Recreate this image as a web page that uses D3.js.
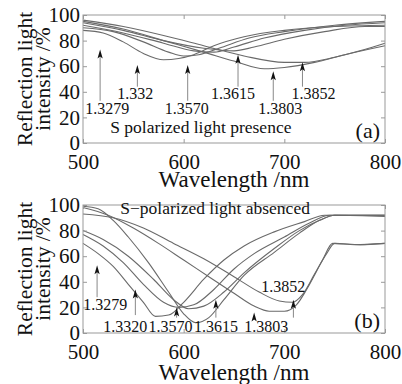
<!DOCTYPE html>
<html>
<head>
<meta charset="utf-8">
<script src="https://cdn.jsdelivr.net/npm/d3@7"></script>
<style>
  body { margin: 0; background: #fff; }
</style>
</head>
<body>
<div id="chart"></div>
<script>
// refractive index labels for each curve
const labelsA = ['1.3279', '1.332', '1.3570', '1.3615', '1.3803', '1.3852'];
const labelsB = ['1.3279', '1.3320', '1.3570', '1.3615', '1.3803', '1.3852'];

// panel (a): S polarized light present, [wavelength, reflection %]
const curvesA = [
  [[500,88],[520,86],[540,79],[560,70],[580,65],[595,66],[610,69],[630,76],[660,83],[700,88],[750,91],[800,92]],
  [[500,90],[530,87],[560,79],[585,71],[600,68],[615,69],[635,74],[665,82],[700,87],[750,92],[800,95]],
  [[500,92],[540,86],[580,78],[610,72],[630,71],[650,75],[680,82],[720,88],[760,92],[800,94]],
  [[500,94],[540,88],[580,80],[620,74],[650,72],[670,75],[700,81],[740,87],[780,91],[800,91]],
  [[500,95],[540,89],[580,80],[620,71],[650,64],[680,58],[700,59],[730,63],[760,69],[800,76]],
  [[500,96],[540,91],[580,84],[620,76],[660,68],[700,63],[720,63],[750,67],[775,72],[800,78]]
];

// panel (b): S polarized light absent
const curvesB = [
  [[500,70],[515,62],[530,52],[545,38],[560,24],[572,13],[585,14],[600,24],[620,42],[640,57],[660,68],[690,79],[720,87],[740,92],[770,92],[800,92]],
  [[500,77],[520,68],[540,55],[560,38],[580,24],[595,20],[610,22],[630,34],[650,50],[670,62],[700,75],[725,86],[745,92],[800,92]],
  [[500,80],[520,73],[545,60],[570,42],[590,26],[605,19],[620,21],[640,32],[660,47],[690,66],[715,80],[735,88],[750,92],[800,91]],
  [[500,99],[515,97],[530,88],[545,75],[565,55],[585,32],[600,15],[612,8],[625,12],[640,26],[660,45],[690,63],[715,78],[735,88],[750,92],[800,92]],
  [[500,98],[525,92],[550,82],[575,70],[600,57],[625,44],[650,31],[670,21],[685,17],[700,17],[712,22],[725,38],[738,57],[748,70],[770,69],[800,70]],
  [[500,93],[530,90],[560,82],[590,70],[620,58],[650,44],[675,32],[695,25],[708,24],[718,30],[730,46],[742,62],[750,70],[775,69],[800,70]]
];

// arrow annotations (wavelength, tip %, base %), label anchor (wavelength, baseline %)
const arrowXA = [517, 554, 604, 654, 689, 718];
const arrowTipA = [73, 61, 61, 69, 56, 63];
const arrowBaseA = [33, 44, 33, 44, 33, 44];
const labelXA = [524, 552, 603, 649, 696, 729];
const labelYA = [23, 34, 23, 34, 23, 34];

const arrowXB = [514, 552, 593, 632, 670, 709];
const arrowTipB = [53, 34, 20, 26, 16, 26];
const arrowBaseB = [28, 14, 12, 12, 12, 12];
const labelXB = [522, 542, 587, 632, 682, 699];
const labelYB = [18, 1, 1, 1, 1, 32];

const xTicks = [500, 600, 700, 800];
const yTicks = [0, 20, 40, 60, 80, 100];

const FONT = 'Liberation Serif';
const width = 402, height = 384;
const svg = d3.select('#chart').append('svg')
  .attr('width', width).attr('height', height)
  .attr('font-family', FONT);

function panel(top, curves, labels, ax, atip, abase, lx, ly, note, noteX, noteY, tag, xTitleY) {
  const x = d3.scaleLinear().domain([500, 800]).range([83, 385]);
  const y = d3.scaleLinear().domain([0, 100]).range([top + 128, top]);
  const g = svg.append('g');

  const line = d3.line().x(d => x(d[0])).y(d => y(d[1])).curve(d3.curveMonotoneX);
  g.selectAll('.curve').data(curves).enter().append('path')
    .attr('d', line)
    .attr('fill', 'none')
    .attr('stroke', '#6a6a6a')
    .attr('stroke-width', 1.1);

  // frame + inward ticks
  g.append('rect')
    .attr('x', x(500)).attr('y', y(100))
    .attr('width', x(800) - x(500)).attr('height', y(0) - y(100))
    .attr('fill', 'none').attr('stroke', '#999');

  const left = g.append('g').attr('transform', `translate(${x(500)},0)`)
    .call(d3.axisLeft(y).tickValues(yTicks).tickSizeInner(-4).tickSizeOuter(0).tickPadding(3));
  const right = g.append('g').attr('transform', `translate(${x(800)},0)`)
    .call(d3.axisRight(y).tickValues(yTicks).tickSizeInner(-4).tickSizeOuter(0).tickFormat(''));
  const bottom = g.append('g').attr('transform', `translate(0,${y(0)})`)
    .call(d3.axisBottom(x).tickValues(xTicks).tickSizeInner(-4).tickSizeOuter(0).tickPadding(11));
  const topAx = g.append('g').attr('transform', `translate(0,${y(100)})`)
    .call(d3.axisTop(x).tickValues(xTicks).tickSizeInner(-4).tickSizeOuter(0).tickFormat(''));
  [left, right, bottom, topAx].forEach(a => {
    a.attr('font-family', FONT);
    a.select('.domain').remove();
    a.selectAll('line').attr('stroke', '#999');
  });
  left.selectAll('text').attr('font-size', 21);
  bottom.selectAll('text').attr('font-size', 21);

  // arrows
  labels.forEach((lab, i) => {
    const xx = x(ax[i]);
    g.append('line')
      .attr('x1', xx).attr('x2', xx)
      .attr('y1', y(abase[i])).attr('y2', y(atip[i]) + 6)
      .attr('stroke', '#888').attr('stroke-width', 1);
    const ty = y(atip[i]);
    g.append('path')
      .attr('d', `M${xx},${ty} L${xx - 2.6},${ty + 9} L${xx},${ty + 7} L${xx + 2.6},${ty + 9} Z`)
      .attr('fill', '#111');
    g.append('text')
      .attr('x', x(lx[i])).attr('y', y(ly[i]))
      .attr('text-anchor', 'middle')
      .attr('font-size', 16)
      .text(lab);
  });

  g.append('text').attr('x', x(noteX)).attr('y', y(noteY))
    .attr('font-size', 17.5).text(note);
  g.append('text').attr('x', x(800) - 5).attr('y', y(4))
    .attr('text-anchor', 'end').attr('font-size', 22).text(tag);

  // axis titles
  const cy = (y(0) + y(100)) / 2;
  g.append('text')
    .attr('transform', `translate(32,${cy}) rotate(-90)`)
    .attr('text-anchor', 'middle').attr('font-size', 21.5)
    .text('Reflection light');
  g.append('text')
    .attr('transform', `translate(50,${cy}) rotate(-90)`)
    .attr('text-anchor', 'middle').attr('font-size', 21.5)
    .text('intensity /%');
  g.append('text')
    .attr('x', (x(500) + x(800)) / 2).attr('y', xTitleY)
    .attr('text-anchor', 'middle').attr('font-size', 23)
    .text('Wavelength /nm');
}

panel(15, curvesA, labelsA, arrowXA, arrowTipA, arrowBaseA, labelXA, labelYA,
  'S polarized light presence', 527, 8, '(a)', 187);
panel(205, curvesB, labelsB, arrowXB, arrowTipB, arrowBaseB, labelXB, labelYB,
  'S\u2212polarized light absenced', 537, 93, '(b)', 380);

svg.selectAll('text')
  .attr('font-family', FONT)
  .style('font-family', FONT)
  .attr('fill', '#111');
</script>
</body>
</html>
